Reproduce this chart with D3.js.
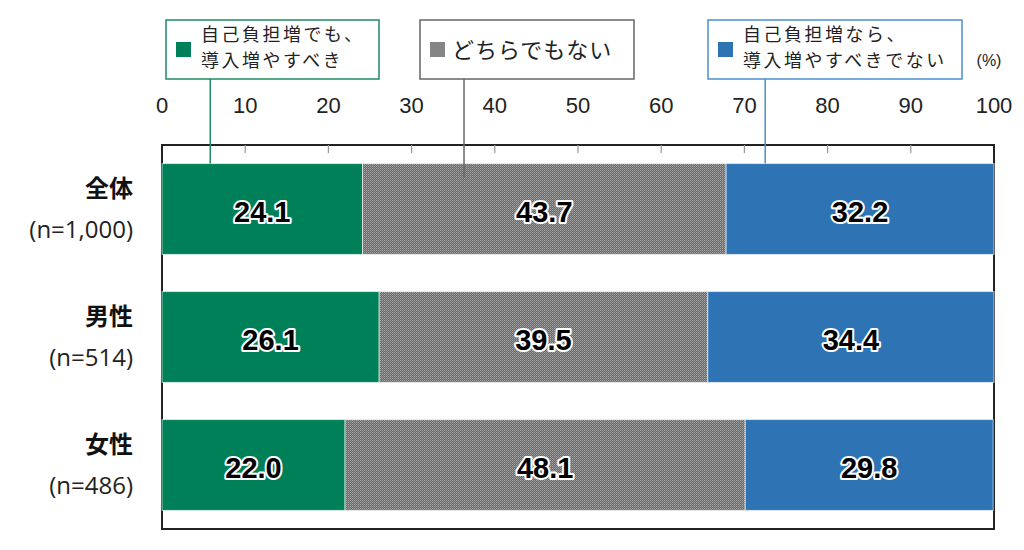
<!DOCTYPE html>
<html>
<head>
<meta charset="utf-8">
<script src="https://cdn.jsdelivr.net/npm/d3@7"></script>
<style>
body{margin:0;background:#fff;}
svg{display:block;}
</style>
</head>
<body>
<script>
// categories and values
let groups=["全体","男性","女性"];
let groupN=["(n=1,000)","(n=514)","(n=486)"];
let yes=[24.1,26.1,22.0];
let neither=[43.7,39.5,48.1];
let no=[32.2,34.4,29.8];
let ticks=[0,10,20,30,40,50,60,70,80,90,100];
let legLines=[["自己負担増でも、","導入増やすべき"],["どちらでもない"],["自己負担増なら、","導入増やすべきでない"]];
let legAnchor=[5.8,36.3,72.5];
let cols=["#008058","url(#dots)","#2e74b5"];
let legSwatch=["#008058","#858585","#2e74b5"];
let legBorder=["#1f8a63","#666666","#4a8fd0"];

let W=1024,H=550;
let svg=d3.select("body").append("svg").attr("width",W).attr("height",H);

let pat=svg.append("defs").append("pattern").attr("id","dots").attr("patternUnits","userSpaceOnUse").attr("width",2).attr("height",2);
pat.append("rect").attr("width",2).attr("height",2).attr("fill","#6a6a6a");
pat.append("rect").attr("width",1).attr("height",1).attr("fill","#a8a8a8");
pat.append("rect").attr("x",1).attr("y",1).attr("width",1).attr("height",1).attr("fill","#8a8a8a");

let x=d3.scaleLinear().domain([0,100]).range([162,994]);
let y=d3.scaleBand().domain(groups).range([145,529]).paddingInner(0.29).paddingOuter(0.145);

// frame
svg.append("rect").attr("x",x(0)).attr("y",145).attr("width",x(100)-x(0)).attr("height",529-145)
 .attr("fill","none").attr("stroke","#222").attr("stroke-width",2);

// small ticks inside top edge
svg.selectAll(".tk").data(ticks.slice(1,-1)).enter().append("line")
 .attr("x1",d=>x(d)).attr("x2",d=>x(d)).attr("y1",145).attr("y2",153)
 .attr("stroke","#999").attr("stroke-width",1.2);

// tick labels
svg.selectAll(".tl").data(ticks).enter().append("text")
 .text(d=>d).attr("x",d=>x(d)).attr("y",113).attr("text-anchor","middle")
 .style("font","22px 'Liberation Sans', Arial, sans-serif").style("fill","#222");

svg.append("text").text("(%)").attr("x",989).attr("y",66).attr("text-anchor","middle")
 .style("font","16px 'Liberation Sans', Arial, sans-serif").style("fill","#222");

// stacked segments
let rows=groups.map((g,i)=>{
 let v=[yes[i],neither[i],no[i]];
 let s=0;
 return v.map((d,j)=>{let o={g:g,k:j,v:d,x0:s,x1:s+d};s+=d;return o;});
});
let segs=rows.flat();

svg.selectAll(".bar").data(segs).enter().append("rect")
 .attr("x",d=>x(d.x0)).attr("y",d=>y(d.g))
 .attr("width",d=>x(d.x1)-x(d.x0)).attr("height",y.bandwidth())
 .attr("fill",d=>cols[d.k]).attr("stroke","#ffffff").attr("stroke-opacity",0.6).attr("stroke-width",1);

svg.selectAll(".val").data(segs).enter().append("text")
 .text(d=>d.v.toFixed(1))
 .attr("x",d=>x((d.x0+d.x1)/2)).attr("y",d=>y(d.g)+y.bandwidth()/2+13)
 .attr("text-anchor","middle")
 .style("font","bold 29px 'Liberation Sans', Arial, sans-serif")
 .style("fill","#000").style("stroke","#fff").style("stroke-width",4).style("stroke-linejoin","round")
 .style("paint-order","stroke");

// category labels
svg.selectAll(".cat").data(groups).enter().append("text")
 .text(d=>d).attr("x",133).attr("y",d=>y(d)+y.bandwidth()/2-12).attr("text-anchor","end")
 .style("font","bold 24px 'Noto Sans CJK JP', sans-serif").style("fill","#111");
svg.selectAll(".catn").data(groups).enter().append("text")
 .text((d,i)=>groupN[i]).attr("x",133).attr("y",d=>y(d)+y.bandwidth()/2+29).attr("text-anchor","end")
 .style("font","24px 'Open Sans', sans-serif").style("fill","#222");

// legend boxes
let legBox=[[166,379],[420,634],[708,962]];
let legEnd=[y(groups[0]),y(groups[0])+14,y(groups[0])];
legLines.forEach((lines,i)=>{
 let g=svg.append("g");
 g.append("line").attr("x1",x(legAnchor[i])).attr("x2",x(legAnchor[i])).attr("y1",79).attr("y2",legEnd[i])
  .attr("stroke",legBorder[i]).attr("stroke-width",1.5);
 g.append("rect").attr("x",legBox[i][0]).attr("y",20).attr("width",legBox[i][1]-legBox[i][0]).attr("height",59)
  .attr("fill","#fff").attr("stroke",legBorder[i]).attr("stroke-width",1.5);
 g.append("rect").attr("x",legBox[i][0]+10).attr("y",42).attr("width",15).attr("height",15).attr("fill",legSwatch[i]);
 if(lines.length==1){
  g.append("text").text(lines[0]).attr("x",legBox[i][0]+32).attr("y",58)
   .style("font","22px 'Noto Sans CJK JP', sans-serif").style("letter-spacing","1px").style("fill","#222");
 }else{
  lines.forEach((l,j)=>g.append("text").text(l).attr("x",legBox[i][0]+35).attr("y",41+j*26)
   .style("font","17.9px 'Noto Sans CJK JP', sans-serif").style("letter-spacing","2.6px").style("fill","#222"));
 }
});
</script>
</body>
</html>
